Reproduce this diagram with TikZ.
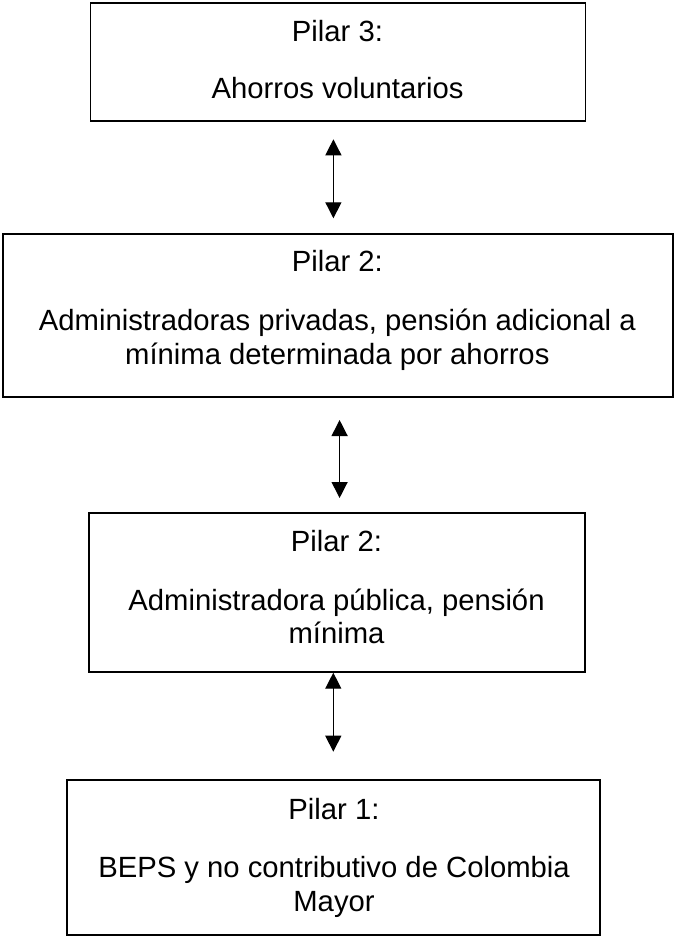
\documentclass[tikz,border=0pt]{standalone}
\usepackage{fontspec}
\setmainfont{Liberation Sans}
\usetikzlibrary{arrows.meta}
\begin{document}
\begin{tikzpicture}[x=1pt,y={(0,-1pt)},
  box/.style={draw=black, line width=1.8pt, fill=none, inner sep=0pt, rectangle},
  txt/.style={inner sep=0pt, anchor=base, font=\fontsize{29.25}{33.3}\selectfont},
  dbl/.style={line width=1.3pt, {Triangle[width=16pt,length=16pt]}-{Triangle[width=16pt,length=16pt]}}]
\useasboundingbox (0,0) rectangle (674,936);
% boxes
\node[box, minimum width=495pt, minimum height=118pt] (b1) at (337.9,61.7) {};
\node[box, minimum width=670pt, minimum height=162.7pt] (b2) at (337.6,315.3) {};
\node[box, minimum width=495.4pt, minimum height=158.4pt] (b3) at (337,592.5) {};
\node[box, minimum width=533.3pt, minimum height=155pt] (b4) at (333.3,857.5) {};
% texts
\node[txt] (t1a) at (337.5,41.7) {Pilar 3:};
\node[txt] (t1b) at (337.5,98.5) {Ahorros voluntarios};
\node[txt] (t2a) at (337.3,271.7) {Pilar 2:};
\node[txt] (t2b) at (337.3,330.7) {Administradoras privadas, pensión adicional a};
\node[txt] (t2c) at (337.3,364) {mínima determinada por ahorros};
\node[txt] (t3a) at (336.5,551.7) {Pilar 2:};
\node[txt] (t3b) at (336.5,610.5) {Administradora pública, pensión};
\node[txt] (t3c) at (336.5,643.8) {mínima};
\node[txt] (t4a) at (334,819) {Pilar 1:};
\node[txt] (t4b) at (334,877.7) {BEPS y no contributivo de Colombia};
\node[txt] (t4c) at (334,911) {Mayor};
% arrows
\coordinate (a1t) at (333.4,139.3);
\coordinate (a1b) at (333.4,218.3);
\coordinate (a2t) at (339.6,420);
\coordinate (a2b) at (339.6,498);
\coordinate (a3t) at (333.3,672.7);
\coordinate (a3b) at (333.3,751.7);
\draw[dbl] (a1t) -- (a1b);
\draw[dbl] (a2t) -- (a2b);
\draw[dbl] (a3t) -- (a3b);
\end{tikzpicture}
\end{document}
